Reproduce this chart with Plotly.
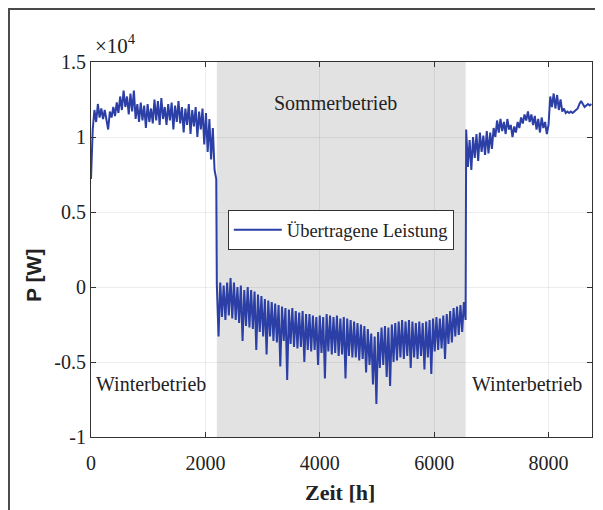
import plotly.graph_objects as go

# ---- data (power in units of 10^4 W, time in hours) ----
winter1_h = [0, 30, 60, 90, 120, 150, 180, 210, 240, 270,
             300, 330, 360, 390, 420, 450, 480, 510, 540, 570,
             600, 630, 660, 690, 720, 750, 780, 810, 840, 870,
             900, 930, 960, 990, 1020, 1050, 1080, 1110, 1140, 1170,
             1200, 1230, 1260, 1290, 1320, 1350, 1380, 1410, 1440, 1470,
             1500, 1530, 1560, 1590, 1620, 1650, 1680, 1710, 1740, 1770,
             1800, 1830, 1860, 1890, 1920, 1950, 1980, 2010, 2040, 2070,
             2100, 2130, 2160, 2190]
winter1_p = [0.72, 1.05, 1.18, 1.10, 1.22, 1.13, 1.19, 1.12, 1.18, 1.12,
             1.05, 1.17, 1.13, 1.20, 1.14, 1.23, 1.16, 1.27, 1.18, 1.31,
             1.20, 1.27, 1.15, 1.29, 1.17, 1.31, 1.12, 1.22, 1.10, 1.23,
             1.11, 1.21, 1.06, 1.22, 1.10, 1.19, 1.09, 1.25, 1.11, 1.24,
             1.08, 1.26, 1.12, 1.20, 1.08, 1.22, 1.11, 1.23, 1.05, 1.21,
             1.10, 1.24, 1.09, 1.20, 1.03, 1.19, 1.08, 1.22, 1.02, 1.18,
             1.07, 1.20, 1.00, 1.17, 1.05, 1.19, 0.95, 1.16, 0.90, 1.12,
             0.85, 1.06, 0.78, 0.72]

summer_h = [2200, 2230, 2260, 2290, 2320, 2350, 2380, 2410, 2440, 2470,
            2500, 2530, 2560, 2590, 2620, 2650, 2680, 2710, 2740, 2770,
            2800, 2830, 2860, 2890, 2920, 2950, 2980, 3010, 3040, 3070,
            3100, 3130, 3160, 3190, 3220, 3250, 3280, 3310, 3340, 3370,
            3400, 3430, 3460, 3490, 3520, 3550, 3580, 3610, 3640, 3670,
            3700, 3730, 3760, 3790, 3820, 3850, 3880, 3910, 3940, 3970,
            4000, 4030, 4060, 4090, 4120, 4150, 4180, 4210, 4240, 4270,
            4300, 4330, 4360, 4390, 4420, 4450, 4480, 4510, 4540, 4570,
            4600, 4630, 4660, 4690, 4720, 4750, 4780, 4810, 4840, 4870,
            4900, 4930, 4960, 4990, 5020, 5050, 5080, 5110, 5140, 5170,
            5200, 5230, 5260, 5290, 5320, 5350, 5380, 5410, 5440, 5470,
            5500, 5530, 5560, 5590, 5620, 5650, 5680, 5710, 5740, 5770,
            5800, 5830, 5860, 5890, 5920, 5950, 5980, 6010, 6040, 6070,
            6100, 6130, 6160, 6190, 6220, 6250, 6280, 6310, 6340, 6370,
            6400, 6430, 6460, 6490, 6520, 6550]
summer_p = [0.02, -0.33, 0.03, -0.20, 0.01, -0.22, 0.03, -0.19, 0.06, -0.21,
            0.03, -0.22, 0.00, -0.24, 0.01, -0.36, -0.02, -0.26, 0.00, -0.27,
            -0.02, -0.28, -0.03, -0.42, -0.05, -0.30, -0.06, -0.33, -0.08, -0.45,
            -0.09, -0.33, -0.10, -0.36, -0.11, -0.37, -0.12, -0.53, -0.13, -0.36,
            -0.14, -0.62, -0.15, -0.38, -0.14, -0.40, -0.16, -0.41, -0.17, -0.40,
            -0.16, -0.50, -0.18, -0.42, -0.18, -0.43, -0.19, -0.42, -0.20, -0.52,
            -0.19, -0.44, -0.20, -0.61, -0.18, -0.43, -0.19, -0.45, -0.20, -0.44,
            -0.19, -0.46, -0.21, -0.45, -0.20, -0.61, -0.21, -0.46, -0.22, -0.47,
            -0.23, -0.47, -0.24, -0.49, -0.25, -0.48, -0.26, -0.57, -0.28, -0.52,
            -0.31, -0.65, -0.33, -0.78, -0.30, -0.54, -0.27, -0.52, -0.26, -0.60,
            -0.27, -0.66, -0.25, -0.50, -0.24, -0.49, -0.23, -0.47, -0.22, -0.48,
            -0.23, -0.46, -0.22, -0.54, -0.23, -0.47, -0.24, -0.48, -0.23, -0.46,
            -0.24, -0.55, -0.23, -0.47, -0.22, -0.58, -0.21, -0.43, -0.20, -0.42,
            -0.21, -0.41, -0.19, -0.48, -0.18, -0.38, -0.16, -0.37, -0.14, -0.33,
            -0.13, -0.32, -0.12, -0.30, -0.10, -0.22]

winter2_h = [6560, 6590, 6620, 6650, 6680, 6710, 6740, 6770, 6800, 6830,
             6860, 6890, 6920, 6950, 6980, 7010, 7040, 7070, 7100, 7130,
             7160, 7190, 7220, 7250, 7280, 7310, 7340, 7370, 7400, 7430,
             7460, 7490, 7520, 7550, 7580, 7610, 7640, 7670, 7700, 7730,
             7760, 7790, 7820, 7850, 7880, 7910, 7940, 7970, 8000, 8030,
             8060, 8090, 8120, 8150, 8180, 8210, 8240, 8270, 8300, 8330,
             8360, 8390, 8420, 8450, 8480, 8510, 8540, 8570, 8600, 8630,
             8660, 8690, 8720, 8750]
winter2_p = [1.05, 0.80, 0.98, 0.78, 1.00, 0.86, 1.02, 0.84, 1.03, 0.90,
             1.01, 0.88, 1.04, 0.89, 1.03, 0.92, 1.06, 1.00, 1.11, 1.03,
             1.12, 1.04, 1.10, 1.02, 1.12, 1.05, 1.08, 1.00, 1.07, 1.03,
             1.10, 1.06, 1.13, 1.09, 1.15, 1.11, 1.17, 1.10, 1.15, 1.08,
             1.14, 1.05, 1.12, 1.03, 1.13, 1.06, 1.10, 1.02, 1.08, 1.27,
             1.20, 1.29, 1.19, 1.28, 1.18, 1.25, 1.17, 1.19, 1.16, 1.17,
             1.16, 1.17, 1.16, 1.17, 1.18, 1.19, 1.22, 1.24, 1.22, 1.20,
             1.21, 1.22, 1.21, 1.22]

summer_period = [2200, 6550]
x_ticks = [0, 2000, 4000, 6000, 8000]
x_ticktext = ["0", "2000", "4000", "6000", "8000"]
y_ticks = [-1, -0.5, 0, 0.5, 1, 1.5]
y_ticktext = ["-1", "-0.5", "0", "0.5", "1", "1.5"]

assert len(winter1_h) == len(winter1_p)
assert len(summer_h) == len(summer_p)
assert len(winter2_h) == len(winter2_p)

hours = winter1_h + summer_h + winter2_h
power = winter1_p + summer_p + winter2_p

SERIF = "Liberation Serif, Times New Roman, serif"
SANS = "Liberation Sans, Arial, sans-serif"

fig = go.Figure()
fig.add_trace(go.Scatter(
    x=hours, y=power, mode="lines",
    line=dict(color="#2b3fa6", width=2),
    name="Übertragene Leistung",
))

fig.add_vrect(x0=summer_period[0], x1=summer_period[1],
              fillcolor="#e2e2e2", line_width=0, layer="below")

# outer frame
fig.add_shape(type="rect", xref="paper", yref="paper",
              x0=-0.1637, y0=-0.3, x1=1.06, y1=1.1413,
              line=dict(color="#4a4a4a", width=2), fillcolor="rgba(0,0,0,0)")

fig.add_annotation(x=4270, y=1.227, text="Sommerbetrieb", showarrow=False,
                   font=dict(family=SERIF, size=20, color="#222"))
fig.add_annotation(x=1057, y=-0.647, text="Winterbetrieb", showarrow=False,
                   font=dict(family=SERIF, size=20, color="#222"))
fig.add_annotation(x=7625, y=-0.647, text="Winterbetrieb", showarrow=False,
                   font=dict(family=SERIF, size=20, color="#222"))
fig.add_annotation(xref="paper", yref="paper", x=0.003, y=1.005,
                   xanchor="left", yanchor="bottom",
                   text="×10<sup>4</sup>", showarrow=False,
                   font=dict(family=SERIF, size=21, color="#222"))
fig.add_annotation(xref="paper", yref="paper", x=0.4965, y=-0.147,
                   xanchor="center", yanchor="middle",
                   text="<b>Zeit [h]</b>", showarrow=False,
                   font=dict(family=SERIF, size=22, color="#222"))
fig.add_annotation(xref="paper", yref="paper", x=-0.116, y=0.432,
                   xanchor="center", yanchor="middle",
                   text="<b>P [W]</b>", showarrow=False, textangle=-90,
                   font=dict(family=SANS, size=21, color="#222"))

fig.update_xaxes(range=[0, 8760], tickvals=x_ticks, ticktext=x_ticktext,
                 showline=True, linecolor="#333", linewidth=1, mirror="ticks",
                 ticks="inside", ticklen=5, tickcolor="#333",
                 ticklabelstandoff=8,
                 showgrid=True, gridcolor="rgba(0,0,0,0.07)", zeroline=False,
                 tickfont=dict(family=SERIF, size=20, color="#222"))
fig.update_yaxes(range=[-1, 1.5], tickvals=y_ticks, ticktext=y_ticktext,
                 showline=True, linecolor="#333", linewidth=1, mirror="ticks",
                 ticks="inside", ticklen=5, tickcolor="#333",
                 showgrid=True, gridcolor="rgba(0,0,0,0.07)", zeroline=False,
                 tickfont=dict(family=SERIF, size=20, color="#222"))

fig.update_layout(
    width=595, height=502,
    margin=dict(l=83, r=11, t=54, b=73),
    plot_bgcolor="white", paper_bgcolor="white",
    showlegend=True,
    legend=dict(x=0.273, y=0.605, xanchor="left", yanchor="top",
                bgcolor="white", bordercolor="#333", borderwidth=1,
                itemwidth=48,
                font=dict(family=SERIF, size=18.5, color="#222")),
)

fig.write_html("out.html")
